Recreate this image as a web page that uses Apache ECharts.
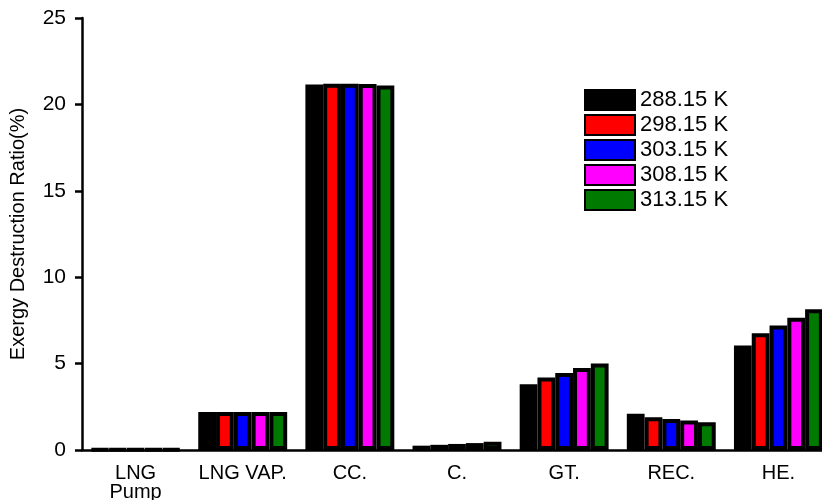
<!DOCTYPE html>
<html>
<head>
<meta charset="utf-8">
<script src="https://cdn.jsdelivr.net/npm/echarts@6/dist/echarts.min.js"></script>
<style>
  html, body { margin: 0; padding: 0; background: #fff; }
  #chart { width: 822px; height: 500px; }
</style>
</head>
<body>
<div id="chart"></div>
<script>
// Components of the cycle
const categories = ['LNG\nPump', 'LNG VAP.', 'CC.', 'C.', 'GT.', 'REC.', 'HE.'];

// Ambient temperatures (series names)
const temperatures = ['288.15 K', '298.15 K', '303.15 K', '308.15 K', '313.15 K'];
const colors = ['#000000', '#ff0000', '#0000ff', '#ff00ff', '#007a00'];

// Exergy destruction ratio (%) per component, one array per temperature
const t288 = [0.03, 2.2, 21.15, 0.25, 3.8, 2.1, 6.05];
const t298 = [0.03, 2.2, 21.2, 0.3, 4.2, 1.9, 6.75];
const t303 = [0.03, 2.2, 21.2, 0.35, 4.45, 1.8, 7.2];
const t308 = [0.03, 2.2, 21.18, 0.4, 4.75, 1.7, 7.65];
const t313 = [0.03, 2.2, 21.1, 0.48, 5.0, 1.6, 8.15];
const seriesValues = [t288, t298, t303, t308, t313];

const yTicks = { min: 0, max: 25, interval: 5 };

const font = 'Liberation Sans, Arial, sans-serif';
const chart = echarts.init(document.getElementById('chart'));

chart.setOption({
  animation: false,
  textStyle: { fontFamily: font },
  grid: { left: 82, top: 18, bottom: 50, width: 750, containLabel: false, outerBoundsMode: 'none' },
  legend: {
    orient: 'vertical',
    left: 579,
    top: 84,
    itemWidth: 50,
    itemHeight: 20,
    itemGap: 3,
    icon: 'rect',
    textStyle: { fontSize: 22, lineHeight: 20, color: '#000', fontFamily: font, padding: [0, 0, 0, 0] },
    data: temperatures
  },
  xAxis: [
    {
      type: 'category',
      data: categories,
      axisLine: { lineStyle: { color: '#000', width: 2.5 } },
      axisTick: { alignWithLabel: true, length: 7, lineStyle: { color: '#000', width: 2.5 } },
      axisLabel: { interval: 0, color: '#000', fontSize: 20, lineHeight: 19, margin: 14, fontFamily: font }
    },
    {
      type: 'category',
      data: categories,
      position: 'bottom',
      axisLine: { show: false },
      axisTick: { alignWithLabel: false, length: 4, lineStyle: { color: '#000', width: 2.5 } },
      axisLabel: { show: false }
    }
  ],
  yAxis: {
    type: 'value',
    min: yTicks.min,
    max: yTicks.max,
    interval: yTicks.interval,
    name: 'Exergy Destruction Ratio(%)',
    nameLocation: 'middle',
    nameGap: 54,
    nameTextStyle: { color: '#000', fontSize: 20, fontFamily: font },
    splitLine: { show: false },
    axisLine: { show: true, lineStyle: { color: '#000', width: 2.5 } },
    axisTick: { show: true, length: 7, lineStyle: { color: '#000', width: 2.5 } },
    axisLabel: { color: '#000', fontSize: 21, margin: 16, fontFamily: font }
  },
  series: temperatures.map((name, i) => ({
    name: name,
    type: 'bar',
    xAxisIndex: 0,
    data: seriesValues[i],
    barGap: '0%',
    barCategoryGap: '17%',
    itemStyle: {
      color: colors[i],
      borderColor: '#000',
      borderWidth: 4
    }
  }))
});
</script>
</body>
</html>
